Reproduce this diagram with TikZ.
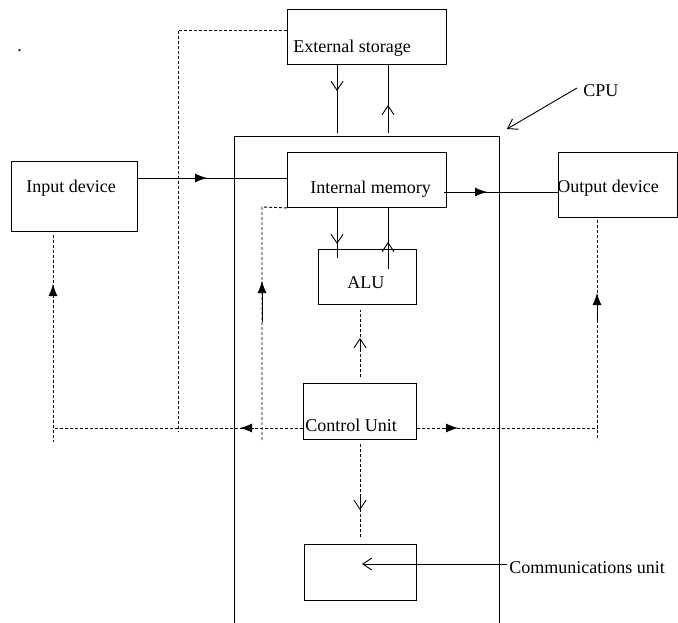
\documentclass[tikz,border=0pt]{standalone}
\usepackage{fontspec}
\setmainfont{Liberation Serif}
\usetikzlibrary{arrows.meta}
\begin{document}
\begin{tikzpicture}[x=1pt,y=-1pt,line width=0.9pt,
  box/.style={draw,anchor=north west,inner sep=0pt},
  lbl/.style={anchor=base west,inner sep=0pt,font=\fontsize{18}{20}\selectfont},
  dsh/.style={dash pattern=on 3pt off 2pt},
  openhead/.style={-{Straight Barb[length=9pt,width=12pt]}},
  fullhead/.style={-{Latex[length=12pt,width=9pt]}}]
\useasboundingbox (0,0) rectangle (678,623);
% boxes
\node[box,minimum width=159pt,minimum height=55pt] (ext) at (287,9) {};
\node[box,minimum width=126pt,minimum height=70pt] (inp) at (11,161) {};
\node[box,minimum width=159pt,minimum height=55pt] (mem) at (287,152) {};
\node[box,minimum width=119pt,minimum height=65pt] (out) at (558,152) {};
\node[box,minimum width=98pt,minimum height=55pt] (alu) at (318,249) {};
\node[box,minimum width=113pt,minimum height=56pt] (cu) at (303,383) {};
\node[box,minimum width=112pt,minimum height=56pt] (com) at (304,544) {};
% CPU outline
\coordinate (cpubl) at (234,624);
\coordinate (cpubr) at (499,624);
\draw (cpubl) -- (234,136) -- (499,136) -- (cpubr);
% labels
\node[lbl] (dot) at (17,52) {.};
\node[lbl] (extl) at (293,53) {External storage};
\node[lbl] (inpl) at (26,193) {Input device};
\node[lbl] (meml) at (310,194) {Internal memory};
\node[lbl] (outl) at (557,193) {Output device};
\node[lbl] (alul) at (347,288) {ALU};
\node[lbl] (cul) at (305,431) {Control Unit};
\node[lbl] (coml) at (509,573) {Communications unit};
\node[lbl] (cpul) at (583,97) {CPU};
% helper coordinates
\coordinate (cA) at (337,0);
\coordinate (cB) at (388,0);
\coordinate (cC) at (360,0);
\coordinate (r30) at (0,30);
\coordinate (r178) at (0,178);
\coordinate (r192) at (0,192);
\coordinate (r428) at (0,428);
% external storage <-> CPU
\draw (ext.south -| cA) -- (337,133);
\draw[openhead] (337,78) -- (337,91);
\draw (388,133) -- (ext.south -| cB);
\draw[openhead] (388,118) -- (388,105);
% input -> memory
\draw (inp.east |- r178) -- (mem.west |- r178);
\draw[fullhead] (190,178) -- (207,178);
% memory -> output
\draw (444,192) -- (out.west |- r192);
\draw[fullhead] (470,192) -- (487,192);
% memory <-> ALU
\draw (mem.south -| cA) -- (337,258);
\draw[openhead] (337,231) -- (337,244);
\draw (388,269) -- (mem.south -| cB);
\draw[openhead] (388,255) -- (388,242);
% dashed control lines
\draw[dsh] (ext.west |- r30) -- (178,30) -- (178,432);
\draw[dsh] (mem.south west) -- (262,207) -- (262,442);
\draw (262,322) -- (262,295);
\draw[fullhead] (262,295) -- (262,281);
\draw[dsh] (53,235) -- (53,442);
\draw[fullhead] (53,298) -- (53,284);
\draw[dsh] (cu.west |- r428) -- (53,428);
\draw[fullhead] (254,428) -- (240,428);
\draw[dsh] (cu.east |- r428) -- (597,428);
\draw[fullhead] (444,428) -- (458,428);
\draw[dsh] (597,220) -- (597,440);
\draw (597,322) -- (597,307);
\draw[fullhead] (597,307) -- (597,293);
\draw[dsh,shorten <=6pt,shorten >=5pt] (cu.north -| cC) -- (alu.south -| cC);
\draw[openhead] (360,351) -- (360,338);
\draw[dsh,shorten <=4pt,shorten >=6pt] (cu.south -| cC) -- (com.north -| cC);
\draw[openhead] (360,497) -- (360,510);
% communications unit pointer
\draw[openhead] (507,564) -- (362,564);
% CPU pointer
\draw[openhead] (577,88) -- (507,129);
\end{tikzpicture}
\end{document}
